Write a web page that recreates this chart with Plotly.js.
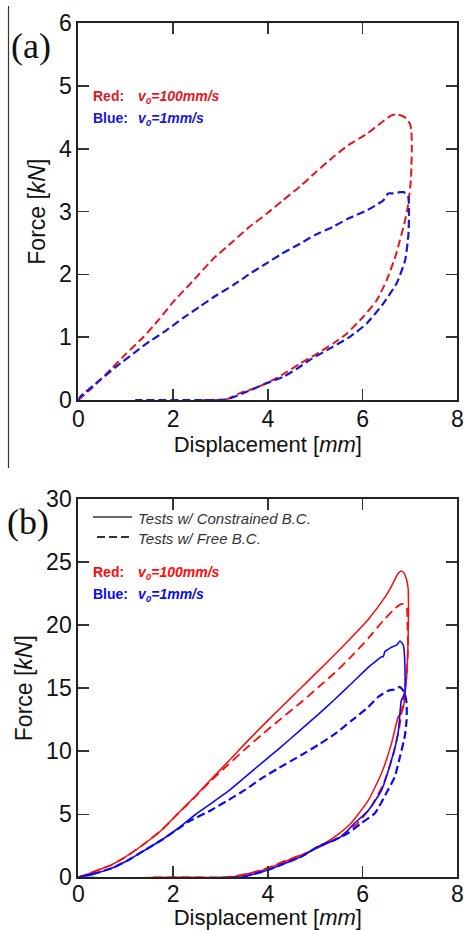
<!DOCTYPE html>
<html>
<head>
<meta charset="utf-8">
<script src="https://cdn.plot.ly/plotly-3.0.1.min.js"></script>
<style>html,body{margin:0;padding:0;background:#fff;}#chart{width:464px;height:930px;}</style>
</head>
<body>
<div id="chart"></div>
<script>
// ---------- Panel (a): free B.C. tests, dashed ----------
const aRedX = [0, 0.3, 0.7, 1.0, 1.37, 1.7, 2.0, 2.4, 2.85, 3.27, 3.6, 3.98, 4.3, 4.68, 5.0, 5.38, 5.7, 6.09, 6.4, 6.6, 6.72, 6.85, 6.93, 7.0, 7.03, 7.04, 7.03, 7.02, 6.96, 6.88, 6.79, 6.69, 6.51, 6.30, 6.02, 5.67, 5.38, 5.0, 4.68, 4.3, 3.98, 3.7, 3.41, 3.13, 3.0, 2.5];
const aRedY = [0, 0.2, 0.5, 0.73, 1.0, 1.28, 1.56, 1.88, 2.25, 2.53, 2.75, 2.97, 3.17, 3.40, 3.62, 3.87, 4.06, 4.24, 4.42, 4.53, 4.55, 4.52, 4.48, 4.40, 4.30, 3.98, 3.70, 3.5, 3.1, 2.8, 2.55, 2.28, 1.91, 1.59, 1.33, 1.06, 0.90, 0.72, 0.58, 0.40, 0.27, 0.18, 0.11, 0.01, 0, 0];
const aBlueX = [0, 0.04, 0.46, 0.8, 1.16, 1.5, 1.86, 2.2, 2.57, 2.9, 3.27, 3.6, 3.98, 4.3, 4.68, 5.0, 5.38, 5.7, 6.09, 6.3, 6.44, 6.54, 6.65, 6.79, 6.86, 6.92, 6.97, 6.98, 6.97, 6.9, 6.72, 6.44, 6.09, 5.74, 5.38, 4.89, 4.68, 4.33, 3.98, 3.55, 3.13, 2.5, 1.2];
const aBlueY = [0, 0.05, 0.32, 0.53, 0.74, 0.93, 1.11, 1.30, 1.49, 1.66, 1.83, 2.0, 2.18, 2.33, 2.49, 2.63, 2.76, 2.89, 3.02, 3.11, 3.18, 3.29, 3.29, 3.31, 3.31, 3.29, 3.22, 3.0, 2.65, 2.23, 1.86, 1.54, 1.22, 1.01, 0.85, 0.64, 0.53, 0.37, 0.27, 0.13, 0.01, 0, 0];

// ---------- Panel (b) ----------
const bRedSolidX = [0, 0.2, 0.42, 0.7, 1.06, 1.41, 1.76, 2.11, 2.46, 2.81, 3.17, 3.52, 3.87, 4.22, 4.71, 5.06, 5.41, 5.76, 6.12, 6.47, 6.6, 6.68, 6.75, 6.82, 6.88, 6.93, 6.96, 6.97, 6.96, 6.93, 6.85, 6.75, 6.61, 6.40, 6.12, 5.76, 5.41, 5.06, 4.71, 4.36, 4.0, 3.6, 3.27, 3.15, 2.0, 0];
const bRedSolidY = [0, 0.25, 0.58, 0.98, 1.77, 2.70, 3.75, 5.08, 6.40, 7.8, 9.2, 10.6, 11.95, 13.25, 15.05, 16.35, 17.65, 19.0, 20.45, 22.2, 23.0, 23.6, 24.1, 24.3, 24.1, 23.6, 23.0, 21.2, 18.6, 15.9, 13.3, 12.7, 10.6, 8.25, 6.1, 4.3, 3.2, 2.4, 1.77, 1.25, 0.71, 0.3, 0.05, 0, 0, 0];
const bRedDashX = [0, 0.2, 0.42, 0.7, 1.06, 1.41, 1.76, 2.11, 2.46, 2.81, 3.17, 3.52, 3.87, 4.22, 4.71, 5.06, 5.41, 5.76, 6.12, 6.47, 6.68, 6.78, 6.85, 6.93, 6.95, 6.96, 6.93, 6.88, 6.78, 6.64, 6.45, 6.2, 5.9, 5.55, 5.2, 4.8, 4.36, 4.0, 3.6, 3.25, 3.1, 1.5];
const bRedDashY = [0, 0.25, 0.58, 0.98, 1.77, 2.70, 3.75, 5.08, 6.35, 7.7, 8.95, 10.15, 11.3, 12.4, 13.9, 15.05, 16.2, 17.5, 18.95, 20.5, 21.3, 21.6, 21.68, 21.46, 19.88, 18.29, 16.0, 14.5, 12.0, 9.6, 7.5, 5.7, 4.3, 3.3, 2.6, 1.9, 1.3, 0.75, 0.3, 0.05, 0, 0];
const bBlueSolidX = [0, 0.3, 0.7, 1.06, 1.41, 1.76, 2.11, 2.46, 2.81, 3.17, 3.52, 3.87, 4.22, 4.71, 5.06, 5.41, 5.76, 6.12, 6.30, 6.40, 6.44, 6.47, 6.55, 6.61, 6.72, 6.79, 6.86, 6.89, 6.89, 6.82, 6.75, 6.61, 6.40, 6.12, 5.83, 5.55, 5.41, 5.06, 4.71, 4.36, 4.0, 3.7, 3.4, 0];
const bBlueSolidY = [0, 0.25, 0.71, 1.37, 2.17, 2.96, 3.89, 4.94, 5.87, 6.85, 7.95, 9.05, 10.15, 11.75, 12.9, 14.1, 15.35, 16.65, 17.2, 17.5, 17.5, 17.9, 18.1, 18.24, 18.42, 18.74, 18.42, 17.24, 14.59, 14.06, 11.4, 9.3, 6.9, 5.3, 4.28, 3.22, 2.96, 2.43, 1.64, 1.11, 0.58, 0.25, 0, 0];
const bBlueDashX = [0, 0.3, 0.7, 1.06, 1.41, 1.76, 2.11, 2.32, 2.81, 3.17, 3.52, 3.87, 4.22, 4.71, 5.06, 5.41, 5.76, 6.12, 6.33, 6.54, 6.68, 6.78, 6.84, 6.89, 6.93, 6.93, 6.89, 6.79, 6.68, 6.50, 6.26, 5.97, 5.69, 5.41, 5.06, 4.71, 4.36, 4.0, 3.7, 3.4, 0];
const bBlueDashY = [0, 0.25, 0.71, 1.37, 2.17, 2.96, 3.85, 4.4, 5.34, 6.13, 6.93, 7.85, 8.64, 9.70, 10.49, 11.35, 12.4, 13.5, 14.3, 14.8, 14.9, 15.1, 14.9, 14.59, 13.80, 12.48, 11.15, 9.56, 7.97, 6.66, 5.08, 4.28, 3.49, 2.96, 2.43, 1.64, 1.11, 0.58, 0.25, 0, 0];

const xTickVals = [0, 2, 4, 6, 8];
const aYTickVals = [0, 1, 2, 3, 4, 5, 6];
const bYTickVals = [0, 5, 10, 15, 20, 25, 30];

const redA = 'rgb(228,22,30)', blueA = 'rgb(22,22,222)';
const redB = 'rgb(255,10,10)', blueB = 'rgb(10,10,250)';
const FONT = 'Arial, "Liberation Sans", sans-serif';
const SERIF = '"Liberation Serif", "Times New Roman", serif';
const SM = 0.5;

const traces = [
  {x: aRedX, y: aRedY, xaxis: 'x', yaxis: 'y', mode: 'lines', line: {color: redA, width: 2, dash: '8px,4px', shape: 'spline', smoothing: SM}},
  {x: aBlueX, y: aBlueY, xaxis: 'x', yaxis: 'y', mode: 'lines', line: {color: blueA, width: 2.2, dash: '8px,4px', shape: 'spline', smoothing: SM}},
  {x: bRedSolidX, y: bRedSolidY, xaxis: 'x2', yaxis: 'y2', mode: 'lines', line: {color: redB, width: 1.5, shape: 'spline', smoothing: SM}},
  {x: bRedDashX, y: bRedDashY, xaxis: 'x2', yaxis: 'y2', mode: 'lines', line: {color: redB, width: 1.8, dash: '9px,5px', shape: 'spline', smoothing: SM}},
  {x: bBlueSolidX, y: bBlueSolidY, xaxis: 'x2', yaxis: 'y2', mode: 'lines', line: {color: blueB, width: 1.6, shape: 'spline', smoothing: SM}},
  {x: bBlueDashX, y: bBlueDashY, xaxis: 'x2', yaxis: 'y2', mode: 'lines', line: {color: blueB, width: 2.2, dash: '8px,4px', shape: 'spline', smoothing: SM}}
];

const W = 464, H = 930;
const px = v => v / W;
const py = v => 1 - v / H;

function xAxis(anchor, standoff, lblOff) {
  return {
    domain: [px(78.3), px(457.3)], anchor: anchor, range: [0, 8], tickvals: xTickVals,
    ticks: 'inside', ticklen: 11, tickwidth: 1.5, tickcolor: '#333',
    showline: true, linewidth: 2, linecolor: '#222', mirror: 'ticks',
    showgrid: false, zeroline: false, fixedrange: true, ticklabelstandoff: lblOff,
    tickfont: {family: FONT, size: 23, color: '#111'},
    title: {text: 'Displacement [<i>mm</i>]', font: {family: FONT, size: 22, color: '#111'}, standoff: standoff}
  };
}
function yAxis(anchor, dom, rng, tv) {
  return {
    domain: dom, anchor: anchor, range: rng, tickvals: tv,
    ticks: 'inside', ticklen: 11, tickwidth: 1.5, tickcolor: '#333',
    showline: true, linewidth: 2, linecolor: '#222', mirror: 'ticks',
    showgrid: false, zeroline: false, fixedrange: true,
    tickfont: {family: FONT, size: 23, color: '#111'},
    title: {text: 'Force [<i>kN</i>]', font: {family: FONT, size: 23, color: '#111'}, standoff: 7}
  };
}

function ann(x, y, text, font, xanchor) {
  return {xref: 'paper', yref: 'paper', x: px(x), y: py(y), text: text, showarrow: false,
          xanchor: xanchor || 'left', yanchor: 'middle', font: font};
}
const legFontRedA = {family: FONT, size: 14, color: redA};
const legFontBlueA = {family: FONT, size: 14, color: blueA};
const legFontRedB = {family: FONT, size: 14, color: redB};
const legFontBlueB = {family: FONT, size: 14, color: blueB};
const grayFont = {family: FONT, size: 15, color: '#333'};

const annotations = [
  ann(31, 46, '(a)', {family: SERIF, size: 36, color: '#111'}, 'center'),
  ann(28, 522, '(b)', {family: SERIF, size: 36, color: '#111'}, 'center'),
  ann(91, 96, '<b>Red:</b>', legFontRedA),
  ann(136, 97, '<b><i>v<sub>0</sub>=100mm/s</i></b>', legFontRedA),
  ann(91, 118, '<b>Blue:</b>', legFontBlueA),
  ann(136, 119, '<b><i>v<sub>0</sub>=1mm/s</i></b>', legFontBlueA),
  ann(136, 518, '<i>Tests w/ Constrained B.C.</i>', grayFont),
  ann(136, 538, '<i>Tests w/ Free B.C.</i>', grayFont),
  ann(91, 572, '<b>Red:</b>', legFontRedB),
  ann(136, 573, '<b><i>v<sub>0</sub>=100mm/s</i></b>', legFontRedB),
  ann(91, 594, '<b>Blue:</b>', legFontBlueB),
  ann(136, 595, '<b><i>v<sub>0</sub>=1mm/s</i></b>', legFontBlueB)
];

const shapes = [
  {type: 'line', xref: 'paper', yref: 'paper', x0: px(8.5), x1: px(8.5), y0: py(6), y1: py(468), line: {color: '#333', width: 1.2}},
  {type: 'line', xref: 'paper', yref: 'paper', x0: px(93), x1: px(132), y0: py(517), y1: py(517), line: {color: '#333', width: 1.5}},
  {type: 'line', xref: 'paper', yref: 'paper', x0: px(97), x1: px(133), y0: py(537), y1: py(537), line: {color: '#333', width: 1.8, dash: '8px,4px'}}
];

const layout = {
  width: W, height: H, margin: {l: 0, r: 0, t: 0, b: 0},
  paper_bgcolor: '#fff', plot_bgcolor: '#fff', showlegend: false,
  xaxis: xAxis('y', 1, -3),
  yaxis: yAxis('x', [py(400), py(23.3)], [0, 6], aYTickVals),
  xaxis2: xAxis('y2', 6, -5),
  yaxis2: yAxis('x2', [py(877.3), py(499)], [0, 30], bYTickVals),
  annotations: annotations, shapes: shapes
};

Plotly.newPlot('chart', traces, layout, {staticPlot: true, displayModeBar: false});
</script>
</body>
</html>
